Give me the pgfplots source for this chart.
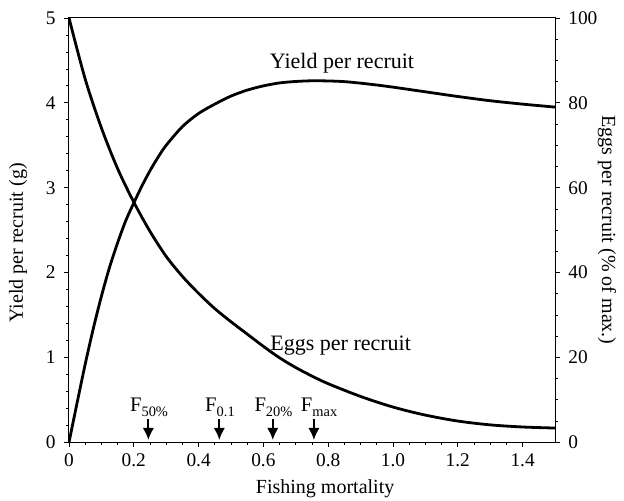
\documentclass[border=0pt]{standalone}
\usepackage{fontspec}
\setmainfont{Liberation Serif}
\usepackage{pgfplots}
\usepackage{pgfplotstable}
\pgfplotsset{compat=1.18}
\usetikzlibrary{arrows.meta}

% Yield per recruit (g) against fishing mortality F
\pgfplotstableread{
F Y
0     0
0.025 0.465
0.050 0.92
0.075 1.34
0.100 1.72
0.125 2.06
0.150 2.35
0.175 2.61
0.200 2.82
0.225 3.02
0.250 3.20
0.275 3.36
0.300 3.50
0.350 3.72
0.400 3.875
0.450 3.985
0.500 4.08
0.550 4.15
0.600 4.20
0.650 4.235
0.700 4.252
0.750 4.26
0.800 4.258
0.850 4.25
0.900 4.232
0.950 4.21
1.000 4.185
1.100 4.13
1.200 4.075
1.300 4.025
1.400 3.985
1.500 3.95
}\yieldtable

% Eggs per recruit (% of unfished maximum)
\pgfplotstableread{
F E
0     100
0.050 85.6
0.100 74.1
0.150 64.5
0.200 56.6
0.250 49.7
0.300 43.8
0.350 39.1
0.400 35.1
0.450 31.5
0.500 28.4
0.550 25.5
0.600 22.6
0.650 19.9
0.700 17.6
0.750 15.6
0.800 13.8
0.900 10.8
1.000 8.3
1.100 6.4
1.200 5.0
1.300 4.1
1.400 3.6
1.500 3.35
}\eggtable

\newcommand{\Fsub}[1]{F\raisebox{-3.7pt}{\fontsize{10.8}{12}\selectfont #1}}

\pgfplotsset{
  common/.style={
    scale only axis,
    at={(51.75pt,43.3pt)}, anchor=south west,
    width=364.5pt, height=318.2pt,
    xmin=0, xmax=1.5,
    tick align=outside,
    major tick length=3.5pt, minor tick length=2.2pt,
    every tick/.style={black, line width=0.6pt},
    axis line style={line width=0.75pt},
    tick label style={font=\fontsize{14.5}{16}\selectfont},
    label style={font=\fontsize{15}{17}\selectfont},
    /pgf/number format/assume math mode=true,
  },
  refarrow/.style={black, line width=1.5pt, -{Latex[length=9pt, width=8.5pt]}},
}

\begin{document}
\begin{tikzpicture}
\useasboundingbox (0,0) rectangle (468pt,375pt);

\begin{axis}[common,
  ymin=0, ymax=5,
  xtick={0,0.2,0.4,0.6,0.8,1.0,1.2,1.4},
  xticklabels={0,0.2,0.4,0.6,0.8,1.0,1.2,1.4},
  minor x tick num=3,
  ytick={0,1,2,3,4,5},
  minor y tick num=4,
  xtick pos=bottom, ytick pos=left,
  xticklabel style={yshift=-1.5pt},
  yticklabel style={xshift=-3pt},
  xlabel={Fishing mortality},
  ylabel={Yield per recruit (g)},
  xlabel style={at={(axis description cs:0.527,-0.1196)}, anchor=base},
  ylabel style={at={(axis description cs:-0.105,0.47)}, anchor=center},
]
\addplot[black, line width=2.1pt, smooth, tension=0.5] table[x=F, y=Y] {\yieldtable};

% reference points, arrows pointing down to the F axis
\addplot[refarrow] coordinates {(0.245,0.271) (0.245,0.027)};
\addplot[refarrow] coordinates {(0.464,0.271) (0.464,0.027)};
\addplot[refarrow] coordinates {(0.629,0.271) (0.629,0.027)};
\addplot[refarrow] coordinates {(0.756,0.271) (0.756,0.027)};

\node[anchor=base, font=\fontsize{15.5}{17}\selectfont, inner sep=0pt] at (axis cs:0.247,0.36) {\Fsub{50\%}};
\node[anchor=base, font=\fontsize{15.5}{17}\selectfont, inner sep=0pt] at (axis cs:0.466,0.36) {\Fsub{0.1}};
\node[anchor=base, font=\fontsize{15.5}{17}\selectfont, inner sep=0pt] at (axis cs:0.631,0.36) {\Fsub{20\%}};
\node[anchor=base, font=\fontsize{15.5}{17}\selectfont, inner sep=0pt] at (axis cs:0.772,0.36) {\Fsub{max}};

\node[anchor=base, font=\fontsize{16.5}{18}\selectfont, inner sep=0pt] at (axis cs:0.8426,4.41) {Yield per recruit};
\node[anchor=base, font=\fontsize{16.5}{18}\selectfont, inner sep=0pt] at (axis cs:0.8385,1.08) {Eggs per recruit};
\end{axis}

\begin{axis}[common,
  ymin=0, ymax=100,
  axis x line=none,
  axis y line*=right,
  ytick={0,20,40,60,80,100},
  minor y tick num=3,
  yticklabel style={xshift=3pt},
  ylabel={Eggs per recruit (\% of max.)},
  ylabel style={at={(axis description cs:1.107,0.5)}, anchor=center, rotate=180},
]
\addplot[black, line width=2.1pt, smooth, tension=0.5] table[x=F, y=E] {\eggtable};
\end{axis}
\end{tikzpicture}
\end{document}
